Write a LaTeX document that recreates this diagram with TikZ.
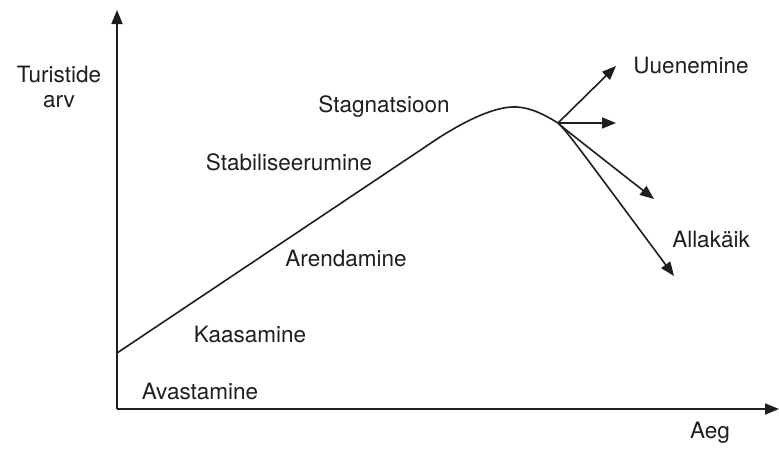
\documentclass[tikz,border=0pt]{standalone}
\usepackage{fontspec}
\setmainfont{TeX Gyre Heros}
\usetikzlibrary{arrows.meta}
\definecolor{ink}{HTML}{1E1E1E}
\tikzset{
  lbl/.style={anchor=base, inner sep=0pt, text=ink, font=\fontsize{22.5}{27}\selectfont},
  ax/.style={line width=1.8pt, draw=ink, -{Triangle[length=14pt,width=11pt]}},
  crv/.style={line width=1.6pt, draw=ink},
  arr/.style={line width=1.6pt, draw=ink, -{Triangle[length=14pt,width=11pt]}}
}
\begin{document}
\begin{tikzpicture}[x=1pt,y=-1pt]
\useasboundingbox (0,0) rectangle (779,448);
\coordinate (O) at (117,409);
\coordinate (ytop) at (117,10);
\coordinate (xend) at (779,409);
\draw[ax] (O) -- (ytop);
\draw[ax] (O) -- (xend);
\coordinate (start) at (117,353);
\coordinate (bend) at (440,137);
\coordinate (peak) at (517,107);
\coordinate (br) at (558,123);
\coordinate (u1) at (616,66);
\coordinate (u2) at (616,123);
\coordinate (d1) at (654,199);
\coordinate (d2) at (674,276);
\draw[crv] (start) -- (bend) .. controls (475,115) and (500,106) .. (peak) .. controls (532,108) and (545,115) .. (br);
\draw[arr] (br) -- (u1);
\draw[arr] (br) -- (u2);
\draw[arr] (br) .. controls (566,130) .. (d1);
\draw[arr] (br) .. controls (568,133) .. (d2);
\node[lbl] (t1) at (59,82) {Turistide};
\node[lbl] (t2) at (59,107) {arv};
\node[lbl] (stag) at (384,112) {Stagnatsioon};
\node[lbl] (stab) at (289,170) {Stabiliseerumine};
\node[lbl] (aren) at (346,266) {Arendamine};
\node[lbl] (kaas) at (250,342) {Kaasamine};
\node[lbl] (avas) at (200,399) {Avastamine};
\node[lbl] (uuen) at (691,73) {Uuenemine};
\node[lbl] (alla) at (711,247) {Allakäik};
\node[lbl] (aeg) at (710,438) {Aeg};
\end{tikzpicture}
\end{document}
